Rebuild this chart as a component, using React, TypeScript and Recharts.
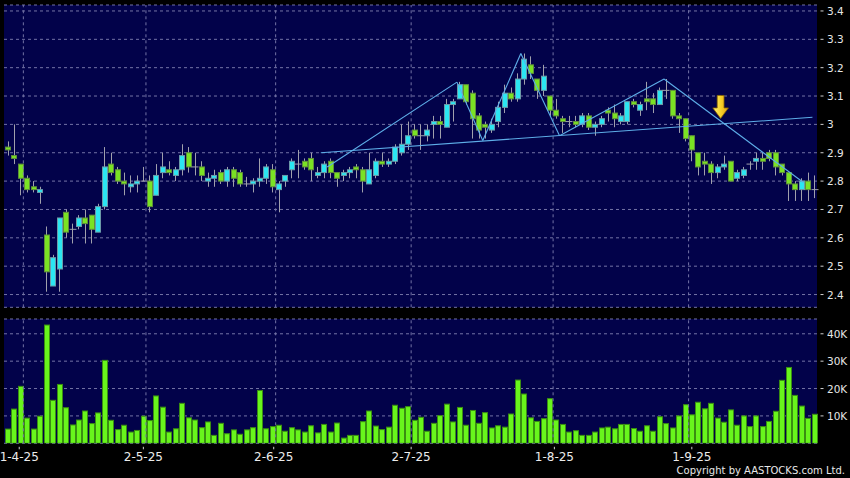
import React from 'react';
import { ComposedChart, Bar, XAxis, YAxis, CartesianGrid, ReferenceLine, ReferenceDot } from 'recharts';

// ---- data (index = trading day, from 28-3-25) ----
const openP = [2.92,2.89,2.86,2.81,2.78,2.76,2.61,2.43,2.49,2.69,2.63,2.64,2.67,2.68,2.62,2.71,2.86,2.84,2.80,2.78,2.79,2.80,2.80,2.75,2.83,2.84,2.82,2.84,2.90,2.85,2.85,2.80,2.81,2.83,2.80,2.84,2.83,2.79,2.79,2.80,2.81,2.84,2.77,2.80,2.84,2.86,2.87,2.88,2.82,2.83,2.87,2.83,2.82,2.83,2.85,2.84,2.79,2.82,2.87,2.86,2.87,2.90,2.93,2.98,2.96,2.96,3.00,3.01,2.99,3.07,3.09,3.14,3.11,3.03,3.00,2.98,3.01,3.06,3.11,3.09,3.16,3.21,3.16,3.12,3.10,3.05,3.02,3.01,3.01,3.00,3.03,2.99,3.00,3.05,3.04,3.01,3.01,3.08,3.05,3.09,3.09,3.07,3.12,3.12,3.03,3.02,2.96,2.90,2.87,2.86,2.83,2.85,2.87,2.81,2.82,2.86,2.87,2.88,2.90,2.90,2.86,2.83,2.79,2.77,2.80,2.77];
const highP = [2.94,3.00,2.86,2.82,2.80,2.78,2.64,2.54,2.67,2.70,2.65,2.68,2.70,2.68,2.72,2.92,2.90,2.85,2.83,2.82,2.82,2.85,2.82,2.86,2.90,2.87,2.85,2.93,2.92,2.90,2.87,2.83,2.84,2.84,2.85,2.85,2.84,2.815,2.81,2.88,2.86,2.86,2.80,2.82,2.88,2.91,2.88,2.90,2.85,2.87,2.88,2.83,2.84,2.85,2.86,2.85,2.90,2.88,2.90,2.88,2.93,3.00,3.01,3.00,3.00,3.00,3.03,3.03,3.09,3.09,3.15,3.14,3.12,3.04,3.01,3.02,3.08,3.14,3.13,3.18,3.25,3.24,3.16,3.21,3.10,3.09,3.03,3.03,3.03,3.04,3.04,3.01,3.03,3.06,3.07,3.04,3.08,3.09,3.08,3.15,3.11,3.13,3.16,3.12,3.04,3.02,2.96,2.90,2.90,2.87,2.86,2.89,2.87,2.84,2.85,2.87,2.90,2.90,2.91,2.91,2.86,2.83,2.80,2.81,2.83,2.82];
const lowP = [2.89,2.86,2.75,2.76,2.76,2.72,2.41,2.43,2.41,2.60,2.58,2.63,2.58,2.58,2.62,2.70,2.82,2.79,2.75,2.76,2.76,2.80,2.69,2.75,2.81,2.82,2.80,2.82,2.83,2.82,2.80,2.78,2.78,2.79,2.78,2.78,2.78,2.78,2.76,2.78,2.79,2.76,2.69,2.78,2.81,2.81,2.84,2.80,2.81,2.81,2.81,2.78,2.80,2.81,2.81,2.76,2.79,2.81,2.85,2.85,2.86,2.89,2.91,2.95,2.91,2.94,2.95,2.95,2.99,3.01,3.09,3.07,2.95,2.95,2.95,2.97,2.99,3.04,3.08,3.08,3.14,3.16,3.09,3.10,3.03,3.02,2.97,2.99,2.99,2.99,2.98,2.96,2.99,3.01,2.99,3.00,3.00,3.06,3.03,3.05,3.04,3.07,3.09,3.02,2.97,2.94,2.87,2.82,2.82,2.79,2.81,2.84,2.80,2.80,2.81,2.84,2.84,2.84,2.87,2.82,2.82,2.73,2.73,2.73,2.73,2.74];
const closeP = [2.91,2.88,2.81,2.77,2.77,2.77,2.48,2.53,2.67,2.62,2.63,2.67,2.65,2.63,2.71,2.85,2.83,2.80,2.79,2.79,2.80,2.80,2.71,2.82,2.85,2.83,2.84,2.89,2.85,2.85,2.82,2.81,2.82,2.80,2.84,2.81,2.79,2.79,2.80,2.81,2.85,2.78,2.79,2.82,2.87,2.86,2.85,2.84,2.83,2.86,2.83,2.81,2.83,2.84,2.84,2.80,2.84,2.87,2.86,2.87,2.92,2.93,2.96,2.96,2.96,2.98,3.01,3.00,3.07,3.08,3.14,3.08,3.02,2.98,2.99,3.00,3.06,3.11,3.09,3.16,3.23,3.18,3.12,3.17,3.05,3.03,3.01,3.01,3.00,3.03,2.99,3.00,3.02,3.04,3.02,3.03,3.08,3.07,3.07,3.08,3.07,3.12,3.12,3.03,3.02,2.95,2.91,2.85,2.86,2.83,2.85,2.86,2.80,2.83,2.84,2.86,2.88,2.87,2.88,2.85,2.83,2.79,2.77,2.80,2.77,2.77];
const volumeK = [5.2,12.5,20.8,9.2,5.2,9.9,43.2,15.7,21.5,13.0,6.7,8.5,11.8,7.2,11.1,30.3,8.4,5.0,6.6,4.1,4.7,9.9,8.3,17.3,13.2,4.1,5.3,14.6,9.3,8.5,5.7,7.8,2.9,7.3,3.5,4.9,3.3,4.9,5.7,19.3,5.3,6.1,6.6,4.4,5.7,4.9,4.1,6.4,3.8,6.9,4.1,7.4,1.9,2.9,2.9,7.9,11.8,6.3,5.0,5.9,13.9,12.8,13.4,8.4,9.5,4.4,7.3,10.1,14.3,7.8,13.1,6.6,12.0,7.3,11.2,5.6,6.4,5.9,10.7,23.1,18.0,9.3,8.0,9.0,16.3,8.5,6.9,4.1,4.6,2.9,2.9,4.1,5.6,5.9,5.3,6.9,6.9,5.4,4.4,6.4,4.4,9.7,7.2,5.6,10.0,14.1,10.4,15.0,12.6,14.6,9.2,7.7,12.2,6.6,10.0,6.1,10.0,6.1,8.0,11.7,23.0,27.7,17.5,13.6,9.1,10.6];

const priceTicks = [2.4, 2.5, 2.6, 2.7, 2.8, 2.9, 3.0, 3.1, 3.2, 3.3, 3.4];
const volumeTicks = [10000, 20000, 30000, 40000];
const monthLabels = ['1-4-25', '2-5-25', '2-6-25', '2-7-25', '1-8-25', '1-9-25'];
const monthLabelIdx = [1.86, 21.1, 41.3, 62.6, 84.8, 106.1];
const monthGridIdx = [2.5, 21.5, 41.6, 62.6, 84.6, 105.6];

// drawn pattern lines (index, price)
const zigzagIdx = [49.6, 69.7, 73.7, 79.6, 85.6, 101.8, 123.4];
const zigzagPrice = [2.85, 3.149, 2.943, 3.25, 2.96, 3.16, 2.795];
const necklineIdx = [48.6, 124.8];
const necklinePrice = [2.90, 3.025];
const arrowIdx = 110.56;
const arrowPrice = 3.021;

const data = openP.map((o, i) => ({
  i,
  o,
  h: highP[i],
  l: lowP[i],
  c: closeP[i],
  range: [lowP[i], highP[i]],
  vol: volumeK[i] * 1000,
}));

const NAVY = '#02024a';
const GRID = '#7474a6';
const CYAN = '#2be6f2';
const GREEN = '#7ae224';
const WICK = '#a0a0ac';
const LINE = '#5eaee8';
const FONT = 'DejaVu Sans';

const VOL_H = 166;
const VOL_AXIS_H = 34.7;

const Candle = (props: any) => {
  const { x, y, width, height, payload } = props;
  if (!payload) return null;
  const { o, h, l, c } = payload;
  const top = Math.min(y, y + height);
  const bot = Math.max(y, y + height);
  const k = h > l ? (bot - top) / (h - l) : 0;
  const py = (v: number) => top + (h - v) * k;
  const cx = Math.round(x + width / 2) + 0.5;
  const bx = Math.round(x) + 0.5;
  const bw = Math.round(width);
  return (
    <g>
      <line x1={cx} x2={cx} y1={top} y2={bot} stroke={WICK} strokeWidth={1} />
      {Math.abs(c - o) < 1e-9 ? (
        <line x1={bx - 1} x2={bx + bw + 1} y1={py(o)} y2={py(o)} stroke={WICK} strokeWidth={1} />
      ) : (
        <rect
          x={bx}
          y={py(Math.max(o, c))}
          width={bw}
          height={Math.max(2, Math.abs(py(o) - py(c)))}
          fill={c > o ? CYAN : GREEN}
          stroke={c > o ? '#6b9aa8' : '#5f8f3a'}
          strokeWidth={1}
        />
      )}
    </g>
  );
};

const VolBar = (props: any) => {
  const { x, y, width, height } = props;
  if (!height) return null;
  return <rect x={Math.round(x) + 0.5} y={y} width={Math.round(width)} height={height} fill="#68f51c" stroke="#3a8e12" strokeWidth={1} />;
};

const Arrow = (props: any) => {
  const { cx, cy } = props;
  if (cx == null || cy == null) return null;
  const pts = [
    [cx - 3.4, cy - 23],
    [cx + 3.4, cy - 23],
    [cx + 3.4, cy - 10.5],
    [cx + 7.8, cy - 10.5],
    [cx, cy],
    [cx - 7.8, cy - 10.5],
    [cx - 3.4, cy - 10.5],
  ]
    .map((p) => p.join(','))
    .join(' ');
  return (
    <g>
      <defs>
        <linearGradient id="arrowGrad" x1="0" y1="0" x2="1" y2="0">
          <stop offset="0" stopColor="#fff27a" />
          <stop offset="0.5" stopColor="#f7d22a" />
          <stop offset="1" stopColor="#e0a010" />
        </linearGradient>
      </defs>
      <polygon points={pts} fill="url(#arrowGrad)" stroke="#8a6400" strokeWidth={0.8} />
    </g>
  );
};

const YTick = (props: any) => {
  const { x, y, payload, fmt } = props;
  return (
    <g>
      <line x1={x + 3.5} x2={x + 6.5} y1={y} y2={y} stroke="#d0d0d0" strokeWidth={1} />
      <text x={x + 10} y={y + 4} fill="#e6e6e6" fontSize={10.5} fontFamily={FONT} textAnchor="start">
        {fmt ? fmt(payload.value) : payload.value}
      </text>
    </g>
  );
};

const XTick = (props: any) => {
  const { x, index } = props;
  const base = VOL_H - VOL_AXIS_H;
  return (
    <g>
      <line x1={x} x2={x} y1={base + 3.5} y2={base + 6} stroke="#d0d0d0" strokeWidth={1} />
      <text x={x} y={base + 17.5} fill="#ececec" fontSize={12} fontFamily={FONT} textAnchor="middle">
        {monthLabels[index]}
      </text>
    </g>
  );
};

const fmtPrice = (v: number) => String(Math.round(v * 10) / 10);
const fmtVol = (v: number) => `${Math.round(v / 1000)}K`;

export default function App() {
  const zigSegments = zigzagIdx.slice(1).map((xi, k) => [
    { x: zigzagIdx[k], y: zigzagPrice[k] },
    { x: xi, y: zigzagPrice[k + 1] },
  ]);
  return (
    <div style={{ position: 'absolute', left: 0, top: 0, width: 850, height: 478, background: '#000', overflow: 'hidden' }}>
      <div style={{ position: 'absolute', left: 0, top: 0 }}>
        <ComposedChart width={850} height={312} data={data} margin={{ top: 5, right: 0, bottom: 4.7, left: 4 }}>
          <CartesianGrid xAxisId="n" vertical={false} stroke={GRID} strokeDasharray="3 3" fill={NAVY} fillOpacity={1} />
          <XAxis xAxisId="c" dataKey="i" type="category" hide />
          <XAxis xAxisId="n" dataKey="i" type="number" domain={[-0.5, 125.5]} allowDataOverflow hide />
          <YAxis
            orientation="right"
            width={33}
            domain={[2.355, 3.421]}
            ticks={priceTicks}
            interval={0}
            allowDataOverflow
            axisLine={false}
            tickLine={false}
            tickSize={0}
            tickMargin={0}
            tick={<YTick fmt={fmtPrice} />}
          />
          {monthGridIdx.map((g) => (
            <ReferenceLine key={g} xAxisId="n" x={g} stroke={GRID} strokeDasharray="3 3" />
          ))}
          <Bar xAxisId="c" dataKey="range" barSize={5} shape={<Candle />} isAnimationActive={false} />
          <ReferenceLine
            xAxisId="n"
            segment={[
              { x: necklineIdx[0], y: necklinePrice[0] },
              { x: necklineIdx[1], y: necklinePrice[1] },
            ]}
            stroke={LINE}
            strokeWidth={1.1}
          />
          {zigSegments.map((s, k) => (
            <ReferenceLine key={k} xAxisId="n" segment={s} stroke={LINE} strokeWidth={1.1} />
          ))}
          <ReferenceDot xAxisId="n" x={arrowIdx} y={arrowPrice} shape={<Arrow />} />
        </ComposedChart>
      </div>
      <div style={{ position: 'absolute', left: 0, top: 312 }}>
        <ComposedChart width={850} height={VOL_H} data={data} margin={{ top: 7, right: 0, bottom: 0, left: 4 }}>
          <CartesianGrid xAxisId="n" vertical={false} stroke={GRID} strokeDasharray="3 3" fill={NAVY} fillOpacity={1} />
          <XAxis xAxisId="c" dataKey="i" type="category" hide />
          <XAxis
            xAxisId="n"
            dataKey="i"
            type="number"
            domain={[-0.5, 125.5]}
            allowDataOverflow
            ticks={monthLabelIdx}
            interval={0}
            height={VOL_AXIS_H}
            axisLine={false}
            tickLine={false}
            tickSize={0}
            tickMargin={0}
            tick={<XTick />}
          />
          <YAxis
            orientation="right"
            width={33}
            domain={[0, 45400]}
            ticks={volumeTicks}
            interval={0}
            allowDataOverflow
            axisLine={false}
            tickLine={false}
            tickSize={0}
            tickMargin={0}
            tick={<YTick fmt={fmtVol} />}
          />
          {monthGridIdx.map((g) => (
            <ReferenceLine key={g} xAxisId="n" x={g} stroke={GRID} strokeDasharray="3 3" />
          ))}
          <Bar xAxisId="c" dataKey="vol" barSize={5} shape={<VolBar />} isAnimationActive={false} />
        </ComposedChart>
      </div>
      <svg width={850} height={478} style={{ position: 'absolute', left: 0, top: 0, pointerEvents: 'none' }}>
        <text x={845} y={474} textAnchor="end" fill="#e8e8e8" fontSize={10} fontFamily={FONT}>
          Copyright by AASTOCKS.com Ltd.
        </text>
      </svg>
    </div>
  );
}
